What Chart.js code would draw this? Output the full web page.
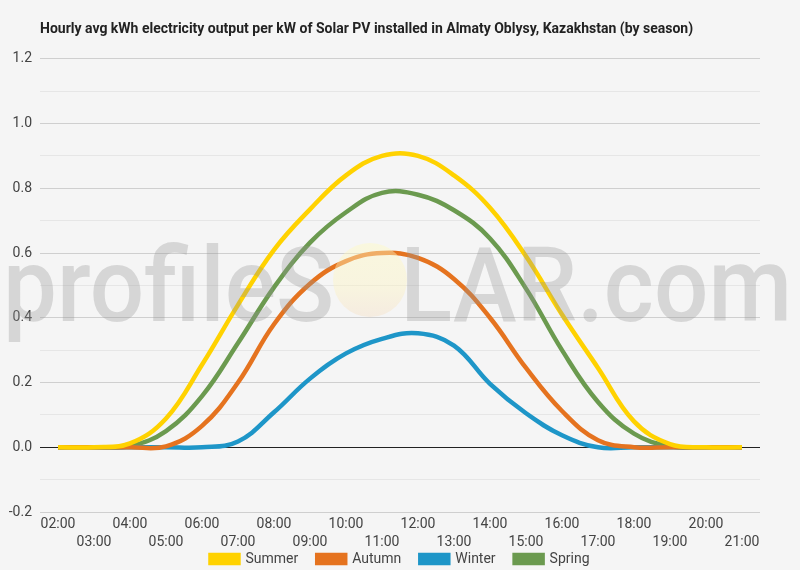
<!DOCTYPE html>
<html>
<head>
<meta charset="utf-8">
<script src="https://cdn.jsdelivr.net/npm/chart.js@4.4.0/dist/chart.umd.min.js"></script>
<style>
html,body{margin:0;padding:0;background:#f5f5f5;}
#wrap{width:800px;height:570px;position:relative;}
</style>
</head>
<body>
<div id="wrap"><canvas id="c" width="800" height="570"></canvas></div>
<script>
const hours = ['02:00','03:00','04:00','05:00','06:00','07:00','08:00','09:00','10:00','11:00','12:00','13:00','14:00','15:00','16:00','17:00','18:00','19:00','20:00','21:00'];
const summer = [0,0,0.012,0.089,0.255,0.44,0.61,0.735,0.84,0.90,0.90,0.84,0.74,0.59,0.41,0.245,0.08,0.01,0,0];
const autumn = [0,0,0,0.003,0.066,0.2,0.38,0.505,0.575,0.60,0.585,0.52,0.40,0.245,0.112,0.022,0,0,0,0];
const winter = [0,0,0,0,0,0.018,0.108,0.212,0.29,0.335,0.352,0.314,0.196,0.105,0.037,0,0,0,0,0];
const spring = [0,0,0.004,0.05,0.158,0.322,0.494,0.632,0.726,0.786,0.78,0.732,0.645,0.49,0.30,0.14,0.042,0.003,0,0];
const seriesNames = ['Summer','Autumn','Winter','Spring'];
const colors = ['#FFD200','#E5731F','#1E96C8','#6B9A4F'];
const titleText = 'Hourly avg kWh electricity output per kW of Solar PV installed in Almaty Oblysy, Kazakhstan (by season)';

const LEGEND_PAD = 19;

const bgPlugin = {
  id:'bg',
  beforeDraw(chart){
    const ctx = chart.ctx;
    ctx.save();
    ctx.fillStyle = '#f5f5f5';
    ctx.fillRect(0,0,chart.width,chart.height);
    ctx.restore();
  }
};

const legendShift = {
  id:'legendShift',
  afterLayout(chart){
    const l = chart.legend;
    if (l) { l.top -= (LEGEND_PAD - 2); l.right = chart.width; }
  }
};

const watermark = {
  id:'wm',
  afterDatasetsDraw(chart){
    const ctx = chart.ctx;
    ctx.save();
    const size = 103;
    ctx.font = '500 ' + size + 'px Roboto';
    ctx.textBaseline = 'alphabetic';
    ctx.textAlign = 'left';
    const a = 'profileS', b = 'LAR.com';
    const wa = ctx.measureText(a).width;
    const wo = ctx.measureText('O').width;
    const wb = ctx.measureText(b).width;
    const total = wa + wo + wb;
    const x0 = 3, x1 = 792;
    const sx = (x1 - x0) / total;
    const baseY = 321;
    ctx.fillStyle = 'rgba(150,150,150,0.32)';
    ctx.save();
    ctx.translate(x0, baseY);
    ctx.scale(sx, 1);
    ctx.fillText(a, 0, 0);
    ctx.fillText(b, wa + wo, 0);
    ctx.restore();
    // sun
    const cx = 370, cy = 280, r = 37;
    const g = ctx.createLinearGradient(0, cy - r, 0, cy + r);
    g.addColorStop(0, 'rgba(255,250,195,0.45)');
    g.addColorStop(0.6, 'rgba(253,243,190,0.4)');
    g.addColorStop(1, 'rgba(245,220,190,0.38)');
    ctx.fillStyle = g;
    ctx.beginPath();
    ctx.arc(cx, cy, r, 0, Math.PI*2);
    ctx.fill();
    ctx.restore();
  }
};

new Chart(document.getElementById('c'), {
  type:'line',
  data:{
    labels: hours,
    datasets: [summer, autumn, winter, spring].map((d,i)=>({
      label: seriesNames[i],
      data: d,
      borderColor: colors[i],
      backgroundColor: colors[i],
      borderWidth: 4.5,
      pointRadius: 0,
      pointHoverRadius: 0,
      tension: 0.4,
      fill: false
    }))
  },
  options:{
    responsive:false,
    animation:false,
    layout:{padding:{left:0,right:40,top:0,bottom:0}},
    plugins:{
      title:{
        display:true,
        text:titleText,
        align:'start',
        fullSize:false,
        color:'#222',
        font:{family:'Roboto',size:14,weight:'bold'},
        padding:{top:21,bottom:21}
      },
      legend:{
        position:'bottom',
        maxHeight:20,
        labels:{
          boxWidth:28,
          boxHeight:8,
          padding:LEGEND_PAD,
          color:'#444',
          font:{family:'Roboto',size:14}
        }
      },
      tooltip:{enabled:false}
    },
    scales:{
      x:{
        offset:true,
        grid:{display:false,drawTicks:false},
        border:{display:false},
        ticks:{
          autoSkip:false,
          maxRotation:0,
          minRotation:0,
          padding:3,
          color:'#444',
          font:{family:'Roboto',size:14,lineHeight:1.3},
          callback:function(v,i){ return i%2===0 ? [hours[i]] : ['', hours[i]]; }
        },
        afterFit:function(s){ s.height = 38; }
      },
      y:{
        min:-0.2,
        max:1.2,
        grid:{
          drawTicks:false,
          lineWidth:1,
          color:function(c){
            const v = Math.round(c.tick.value*10);
            if (v===0) return '#222';
            return (Math.abs(v)%2===0) ? '#cfcfcf' : '#e6e6e6';
          }
        },
        border:{display:false},
        ticks:{
          stepSize:0.1,
          padding:8,
          color:'#444',
          font:{family:'Roboto',size:14},
          callback:function(v){
            const k = Math.round(v*10);
            return (Math.abs(k)%2===0) ? (k/10).toFixed(1) : '';
          }
        },
        afterFit:function(s){ s.width = 40; }
      }
    }
  },
  plugins:[bgPlugin, legendShift, watermark]
});
</script>
</body>
</html>
